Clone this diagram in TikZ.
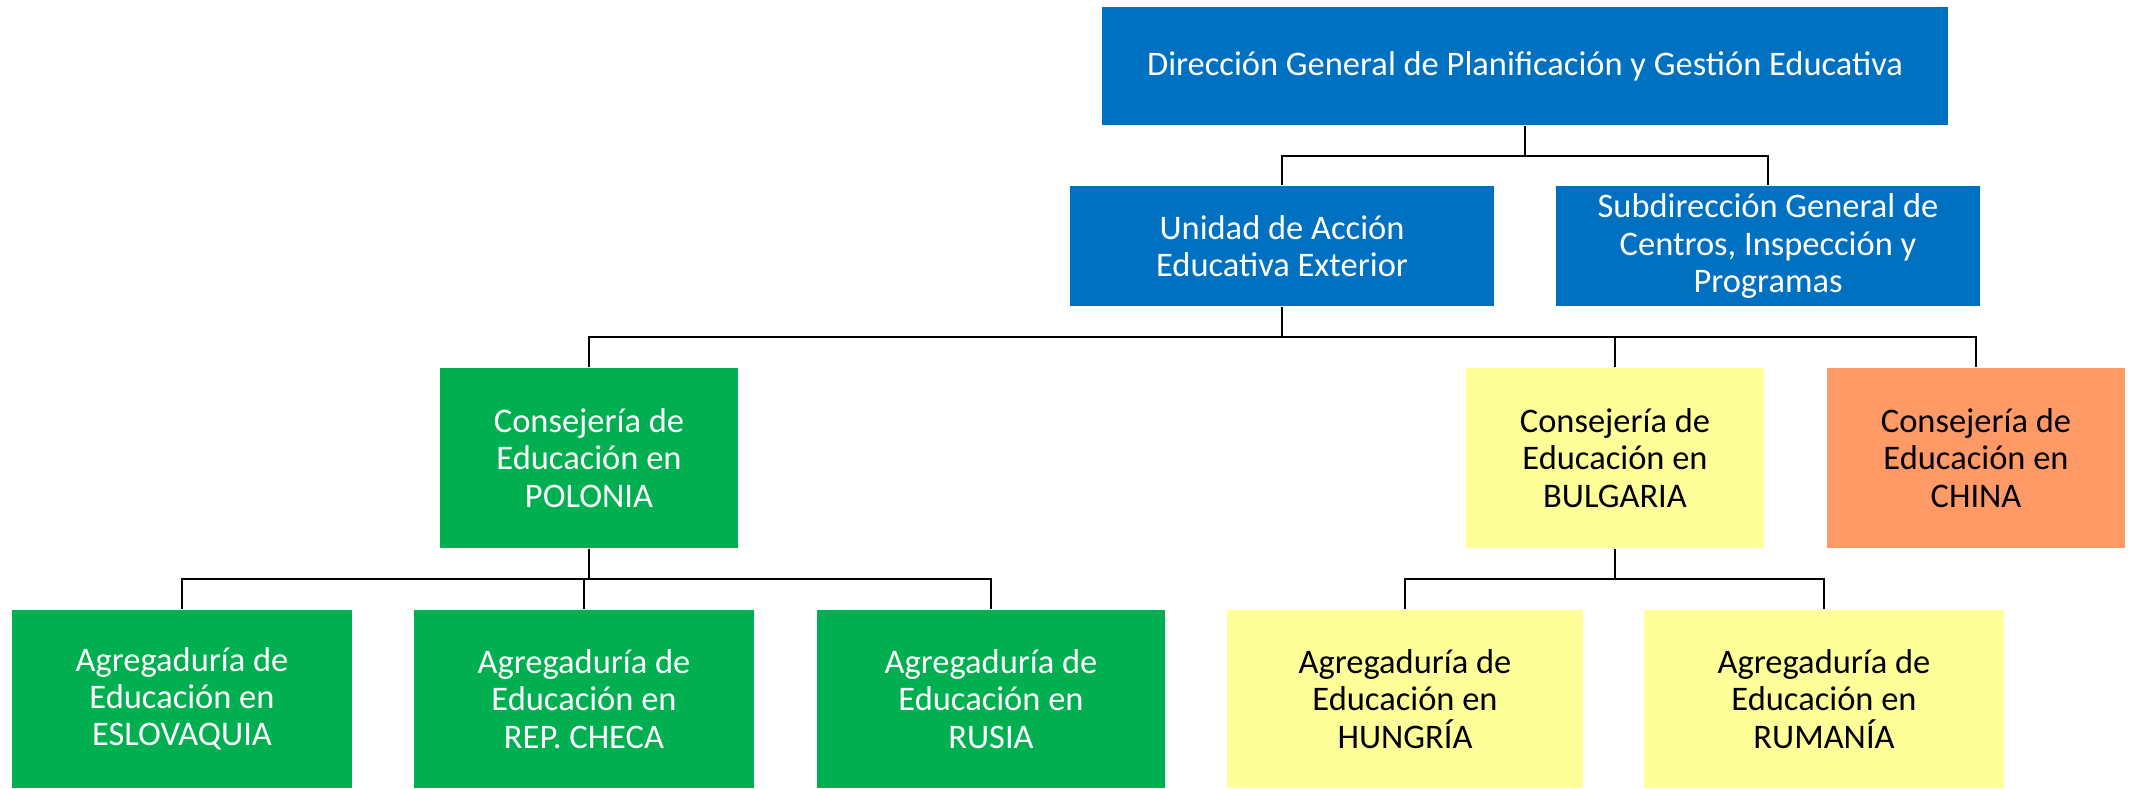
\documentclass[tikz,border=0pt]{standalone}
\usepackage{fontspec}
\setmainfont{Carlito}
\definecolor{dirblue}{HTML}{0070C0}
\definecolor{polgreen}{HTML}{00B050}
\definecolor{bulyellow}{HTML}{FFFF99}
\definecolor{chiorange}{HTML}{FF9966}

\begin{document}
\begin{tikzpicture}[x=0.01cm,y=-0.01cm,
    unit/.style={rectangle, align=center, inner sep=2pt,
      font=\fontsize{9.8}{10.6}\selectfont},
    bluebox/.style={unit, fill=dirblue, text=white},
    greenbox/.style={unit, fill=polgreen, text=white,
      minimum width=3.4cm, minimum height=1.78cm},
    yellowbox/.style={unit, fill=bulyellow, text=black,
      minimum width=3.58cm, minimum height=1.78cm},
    conn/.style={draw=black, line width=0.6pt}]
\useasboundingbox (0,0) rectangle (2131,788);

% direccion general y unidades
\node[bluebox, minimum width=8.46cm, minimum height=1.18cm] (dg) at (1525,66)
  {Dirección General de Planificación y Gestión Educativa};
\node[bluebox, minimum width=4.24cm, minimum height=1.2cm] (uae) at (1282,246)
  {Unidad de Acción\\Educativa Exterior};
\node[bluebox, minimum width=4.23cm, minimum height=1.2cm] (sgc) at (1768,246)
  {Subdirección General de\\Centros, Inspección y\\Programas};

% consejerias
\node[greenbox, minimum width=2.98cm, minimum height=1.8cm] (pol) at (589,458)
  {Consejería de\\Educación en\\POLONIA};
\node[yellowbox, minimum width=2.98cm, minimum height=1.8cm] (bul) at (1615,458)
  {Consejería de\\Educación en\\BULGARIA};
\node[unit, fill=chiorange, minimum width=2.97cm, minimum height=1.8cm] (chi) at (1976,458)
  {Consejería de\\Educación en\\CHINA};

% agregadurias
\node[greenbox] (esl) at (182,699) {Agregaduría de\\Educación en\\ESLOVAQUIA};
\node[greenbox] (rch) at (584,699) {Agregaduría de\\Educación en\\REP. CHECA};
\node[greenbox, minimum width=3.47cm] (rus) at (991,699) {Agregaduría de\\Educación en\\RUSIA};
\node[yellowbox, minimum width=3.56cm] (hun) at (1405,699) {Agregaduría de\\Educación en\\HUNGRÍA};
\node[yellowbox, minimum width=3.6cm] (rum) at (1824,699) {Agregaduría de\\Educación en\\RUMANÍA};

% lineas
\coordinate (bus1) at (0,156);
\coordinate (bus2) at (0,337);
\coordinate (bus3) at (0,579);
\draw[conn] (dg.south) -- (dg.south |- bus1) -| (uae.north);
\draw[conn] (dg.south |- bus1) -| (sgc.north);
\draw[conn] (uae.south) -- (uae.south |- bus2) -| (pol.north);
\draw[conn] (uae.south |- bus2) -| (bul.north);
\draw[conn] (uae.south |- bus2) -| (chi.north);
\draw[conn] (pol.south) -- (pol.south |- bus3) -| (esl.north);
\draw[conn] (pol.south |- bus3) -| (rch.north);
\draw[conn] (pol.south |- bus3) -| (rus.north);
\draw[conn] (bul.south) -- (bul.south |- bus3) -| (hun.north);
\draw[conn] (bul.south |- bus3) -| (rum.north);
\end{tikzpicture}
\end{document}
